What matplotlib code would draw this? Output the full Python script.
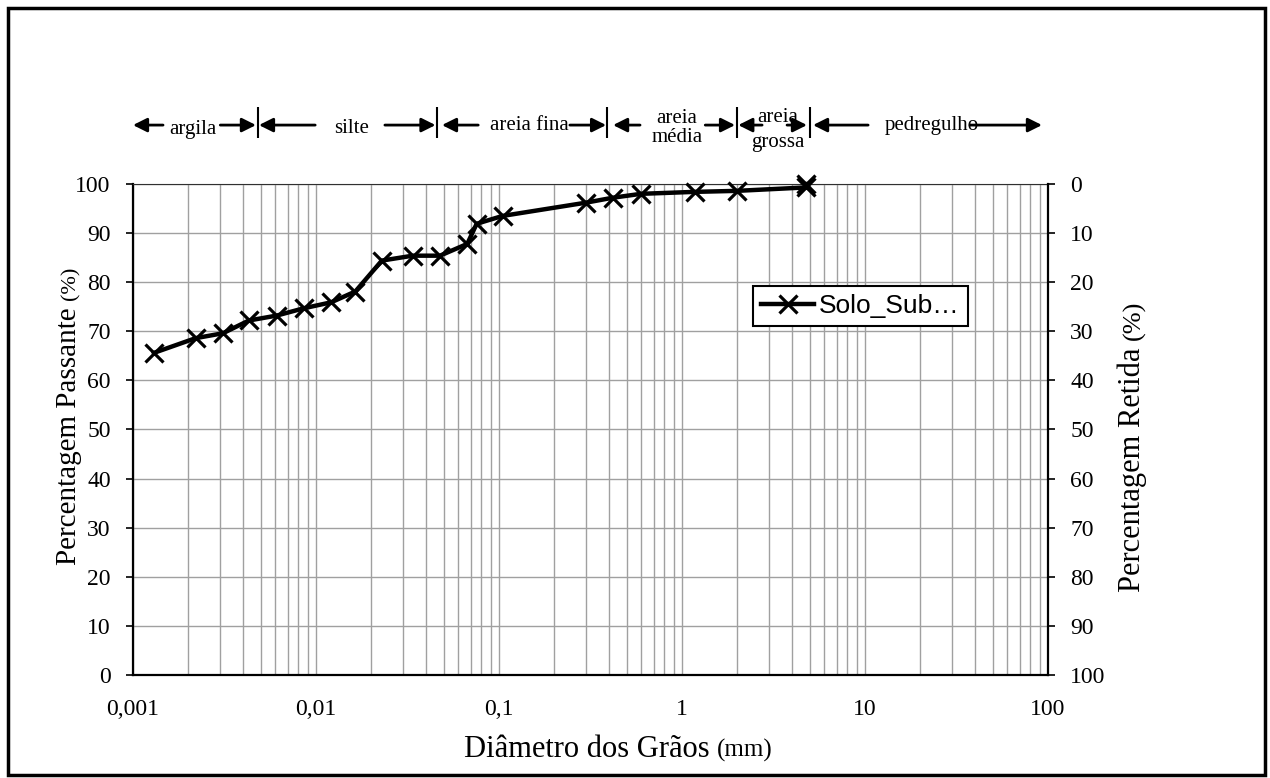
import matplotlib
matplotlib.use("Agg")
import matplotlib.pyplot as plt
from matplotlib.patches import Rectangle
from matplotlib.lines import Line2D

plt.rcParams['font.family'] = ['Liberation Serif', 'DejaVu Serif']

# curva granulometrica
diametro = [0.0013, 0.0022, 0.0031, 0.0043, 0.0061, 0.0086, 0.0121, 0.0164,
            0.0229, 0.0338, 0.0476, 0.0671, 0.0755, 0.1047, 0.299, 0.418,
            0.597, 1.18, 1.99, 4.75, 4.76]
passante = [65.6, 68.6, 69.6, 72.2, 73.2, 74.7, 75.9, 78.1, 84.4, 85.4, 85.4,
            87.8, 91.9, 93.5, 96.2, 97.2, 98.0, 98.4, 98.6, 99.3, 100.0]

xticks = [0.001, 0.01, 0.1, 1, 10, 100]
xtick_labels = ['0,001', '0,01', '0,1', '1', '10', '100']
yticks = list(range(0, 101, 10))

# faixas granulometricas
classes = ['argila', 'silte', 'areia fina', 'areia\nmédia', 'areia\ngrossa', 'pedregulho']
limites = [0.0048, 0.046, 0.39, 2.0, 5.0]
centros = [0.00213, 0.0157, 0.1475, 0.94, 3.35, 23.2]
setas_esq = [(0.00146, 0.001), (0.0099, 0.00488), (0.077, 0.0488),
             (0.59, 0.42), (2.74, 2.03), (10.4, 5.2)]
setas_dir = [(0.003, 0.0047), (0.0238, 0.045), (0.244, 0.385),
             (1.34, 1.95), (3.75, 4.82), (37.5, 92.7)]
altura_txt = [1.110, 1.114, 1.120, 1.114, 1.110, 1.120]
espaco_txt = [1.0, 1.0, 1.0, 0.95, 1.4, 1.0]

fig = plt.figure(figsize=(12.7, 7.78), dpi=100)
ax = fig.add_axes([0.1047, 0.1324, 0.7205, 0.6311])

ax.plot(diametro, passante, color='black', lw=3.2, marker='x', ms=13, mew=2.3,
        zorder=5, clip_on=False)
ax.set_xscale('log')
ax.set_xlim(0.001, 100)
ax.set_ylim(0, 100)
ax.set_xticks(xticks)
ax.set_xticklabels(xtick_labels)
ax.set_yticks(yticks)
ax.tick_params(axis='x', which='both', length=0, pad=17, labelsize=17)
ax.tick_params(axis='y', direction='out', length=5, width=1.2, pad=11, labelsize=17)
ax.grid(True, which='both', axis='x', color='#a0a0a0', lw=1)
ax.grid(True, which='major', axis='y', color='#a0a0a0', lw=1)
for s in ['left', 'bottom']:
    ax.spines[s].set_linewidth(1.6)
ax.spines['top'].set_color('#303030')
ax.spines['right'].set_visible(False)

ax2 = ax.twinx()
ax2.set_ylim(100, 0)
ax2.set_yticks(yticks[::-1])
ax2.set_yticklabels([str(v) for v in yticks[::-1]])
ax2.tick_params(axis='y', direction='out', length=5, width=1.2, pad=11, labelsize=17)
ax2.spines['right'].set_linewidth(1.6)
for s in ['left', 'top', 'bottom']:
    ax2.spines[s].set_visible(False)

leg = ax2.legend(handles=[Line2D([], [], color='black', lw=3.2, marker='x', ms=13, mew=2.3)],
                 labels=['Solo_Sub…'], loc='upper left', bbox_to_anchor=(0.678, 0.792),
                 borderaxespad=0, frameon=True, fancybox=False, framealpha=1,
                 edgecolor='black', prop={'family': 'Liberation Sans', 'size': 19},
                 handlelength=2.0, borderpad=0.3, handletextpad=0.2)
leg.get_frame().set_linewidth(1.5)

# setas das faixas
trans = ax.get_xaxis_transform()
for i, nome in enumerate(classes):
    for tail, tip in (setas_esq[i], setas_dir[i]):
        ax.annotate('', xy=(tip, 1.12), xytext=(tail, 1.12), xycoords=trans,
                    textcoords=trans, annotation_clip=False,
                    arrowprops=dict(arrowstyle='-|>,head_length=0.6,head_width=0.3',
                                    color='black', lw=2, shrinkA=0, shrinkB=0,
                                    mutation_scale=14))
    ax.text(centros[i], altura_txt[i], nome, transform=trans, ha='center', va='center',
            fontsize=15, linespacing=espaco_txt[i], clip_on=False)
ax.vlines(limites, 1.094, 1.157, transform=trans, color='black', lw=1.5, clip_on=False)

# rotulos com unidade menor
def rotulo(x, y, principal, unidade, rot, tam, tam_un):
    t1 = fig.text(x, y, principal, fontsize=tam, rotation=rot, rotation_mode='anchor',
                  ha='left', va='baseline')
    fig.canvas.draw()
    bb = t1.get_window_extent().transformed(fig.transFigure.inverted())
    if rot == 90:
        fig.text(x, bb.y1, unidade, fontsize=tam_un, rotation=90, rotation_mode='anchor',
                 ha='left', va='baseline')
    else:
        fig.text(bb.x1, y, unidade, fontsize=tam_un, ha='left', va='baseline')

rotulo(0.365, 0.027, 'Diâmetro dos Grãos ', '(mm)', 0, 22, 18)
rotulo(0.0595, 0.274, 'Percentagem Passante ', '(%)', 90, 21, 16)
rotulo(0.898, 0.239, 'Percentagem Retida ', '(%)', 90, 22, 19)

fig.patches.append(Rectangle((0.0063, 0.0039), 0.9898, 0.9859, transform=fig.transFigure,
                             fill=False, edgecolor='black', lw=2.5))

fig.savefig('out.png', dpi=100)
